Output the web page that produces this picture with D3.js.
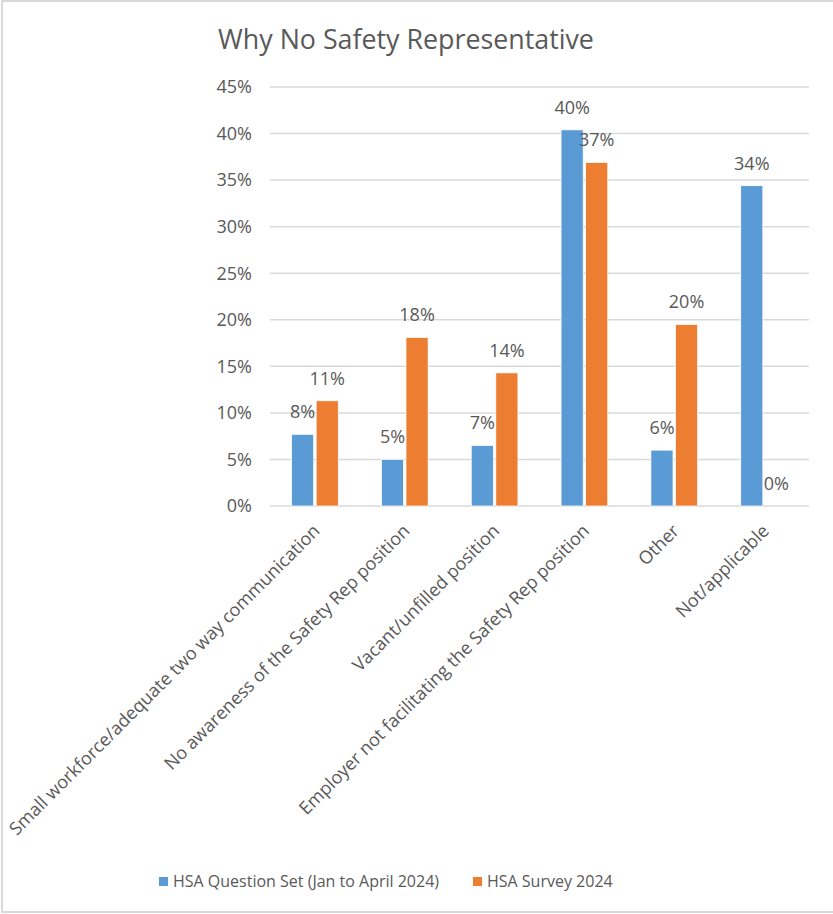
<!DOCTYPE html>
<html>
<head>
<meta charset="utf-8">
<script src="https://cdn.jsdelivr.net/npm/d3@7"></script>
<style>
    body { margin: 0; background: #fff; }
    svg text { font-family: "Open Sans", sans-serif; fill: #595959; }
</style>
</head>
<body>
<div id="chart"></div>
<script>
// data
var categories = [
    "Small workforce/adequate two way communication",
    "No awareness of the Safety Rep position",
    "Vacant/unfilled position",
    "Employer not facilitating the Safety Rep position",
    "Other",
    "Not/applicable"
]
var series_names = ["HSA Question Set (Jan to April 2024)", "HSA Survey 2024"]
var question_set = [0.077, 0.050, 0.065, 0.404, 0.060, 0.344]
var survey = [0.113, 0.181, 0.143, 0.369, 0.195, 0.0]
var y_ticks = [0, 0.05, 0.10, 0.15, 0.20, 0.25, 0.30, 0.35, 0.40, 0.45]
var colors = ["#5b9bd5", "#ed7d31"]

var width = 833, height = 914
var margin = { top: 87, left: 270, right: 24, bottom: 408 }

var svg = d3.select("#chart").append("svg")
    .attr("width", width)
    .attr("height", height)

// chart border
svg.append("rect")
    .attr("x", 2).attr("y", 1)
    .attr("width", width + 10).attr("height", 911)
    .attr("fill", "none")
    .attr("stroke", "#d9d9d9")
    .attr("stroke-width", 2)

svg.append("text")
    .attr("x", 406)
    .attr("y", 49)
    .attr("text-anchor", "middle")
    .style("font-size", "26.8px")
    .text("Why No Safety Representative")

var x = d3.scaleBand()
    .domain(categories)
    .range([margin.left, width - margin.right])
    .paddingInner(0.48)
    .paddingOuter(0.24)

var xs = d3.scaleBand()
    .domain([0, 1])
    .range([0, x.bandwidth()])
    .paddingInner(0.1)

var y = d3.scaleLinear()
    .domain([0, 0.45])
    .range([height - margin.bottom, margin.top])

var pct = d3.format(".0%")

// gridlines
svg.append("g")
    .selectAll("line")
    .data(y_ticks)
    .join("line")
    .attr("x1", margin.left)
    .attr("x2", width - margin.right)
    .attr("y1", d => y(d))
    .attr("y2", d => y(d))
    .attr("stroke", "#d9d9d9")
    .attr("stroke-width", 1.5)

// y tick labels
svg.append("g")
    .selectAll("text")
    .data(y_ticks)
    .join("text")
    .attr("x", 252)
    .attr("y", d => y(d))
    .attr("dy", "0.35em")
    .attr("text-anchor", "end")
    .style("font-size", "18px")
    .text(d => pct(d))

var rows = categories.map((c, i) => ({ cat: c, vals: [question_set[i], survey[i]] }))

var groups = svg.append("g")
    .selectAll("g")
    .data(rows)
    .join("g")
    .attr("transform", d => `translate(${x(d.cat)},0)`)

groups.selectAll("rect")
    .data(d => d.vals.map((v, s) => ({ v: v, s: s })))
    .join("rect")
    .attr("x", d => xs(d.s))
    .attr("width", xs.bandwidth())
    .attr("y", d => y(d.v))
    .attr("height", d => y(0) - y(d.v))
    .attr("fill", d => colors[d.s])
    .attr("stroke", "#fff")
    .attr("stroke-width", 0.75)

groups.selectAll("text")
    .data(d => d.vals.map((v, s) => ({ v: v, s: s })))
    .join("text")
    .attr("x", d => xs(d.s) + xs.bandwidth() / 2)
    .attr("y", d => y(d.v) - 16)
    .attr("text-anchor", "middle")
    .style("font-size", "18px")
    .text(d => pct(d.v))

// rotated category labels
svg.append("g")
    .selectAll("text")
    .data(categories)
    .join("text")
    .attr("transform", d => `translate(${x(d) + x.bandwidth() / 2 + 6},${y(0) + 26}) rotate(-45)`)
    .attr("text-anchor", "end")
    .style("font-size", "18px")
    .text(d => d)

// legend
var legend_x = [159, 473]
var legend = svg.append("g")
    .selectAll("g")
    .data(series_names)
    .join("g")
    .attr("transform", (d, i) => `translate(${legend_x[i]},877)`)

legend.append("rect")
    .attr("width", 9).attr("height", 9)
    .attr("fill", (d, i) => colors[i])

legend.append("text")
    .attr("x", 14)
    .attr("y", 4.5)
    .attr("dy", "0.35em")
    .style("font-size", "16px")
    .text(d => d)
</script>
</body>
</html>
